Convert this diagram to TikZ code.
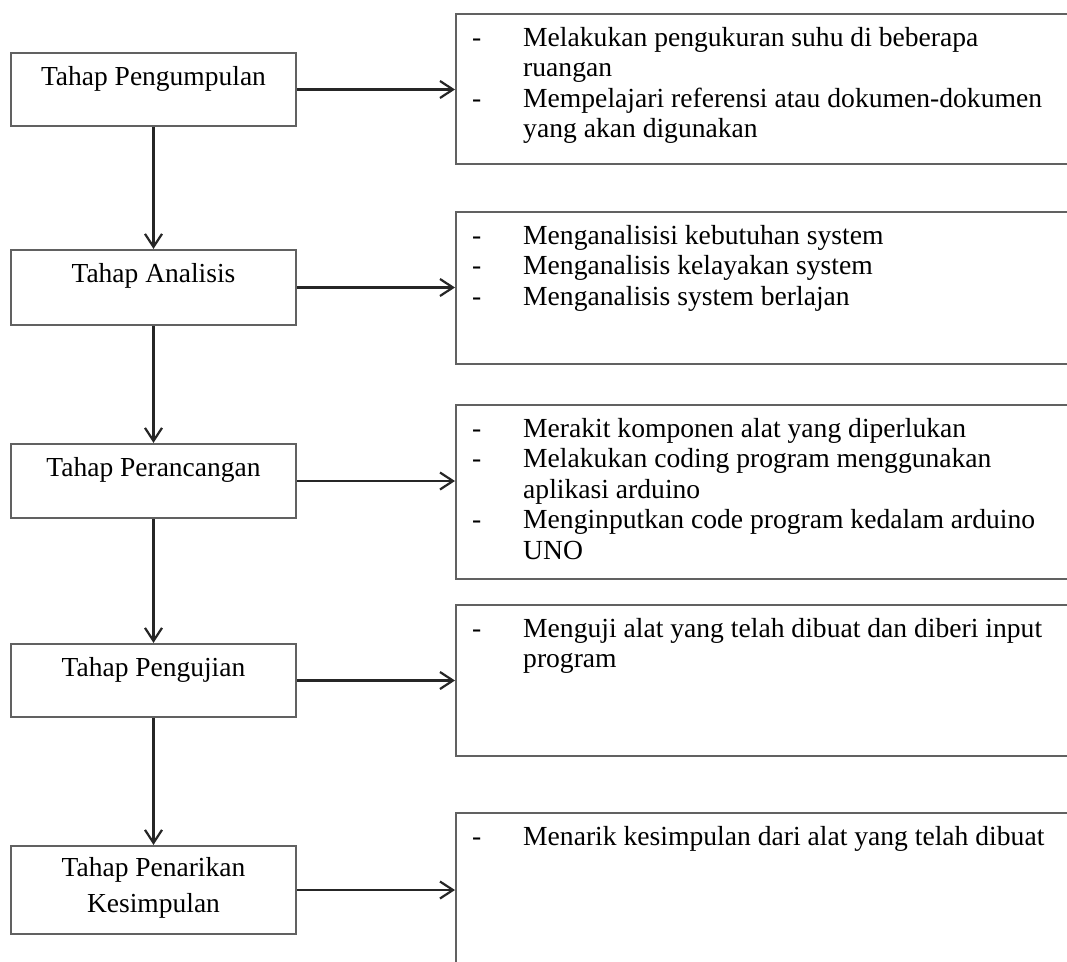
\documentclass[tikz,border=0pt]{standalone}
\usepackage{fontspec}
\setmainfont{Liberation Serif}
\usetikzlibrary{arrows.meta,calc}
\tikzset{
  lbox/.style={draw=black!62, line width=2.2pt, rectangle, inner sep=0pt, minimum width=285pt},
  rbox/.style={draw=black!62, line width=2.2pt, rectangle, inner sep=0pt, minimum width=700pt, anchor=north west},
  btext/.style={inner sep=0pt, anchor=base, font=\fontsize{27.5}{36}\selectfont},
  rtext/.style={inner sep=0pt, anchor=base west, font=\fontsize{27.6}{30.5}\selectfont},
  conn/.style={draw=black!85, line width=2.3pt, -{Straight Barb[length=13pt, width=17pt, line width=2.2pt]}}
}
\newcommand{\rlist}[1]{\begin{tabular}[t]{@{}p{51pt}@{}l@{}}#1\end{tabular}}
\begin{document}
\begin{tikzpicture}[x=1pt,y=1pt]
\clip (0,0) rectangle (1067,-961);
\fill[white] (0,0) rectangle (1067,-961);
% left boxes
\node[lbox, minimum height=73pt] (b1) at (153.5,-89.5) {};
\node[lbox, minimum height=75pt] (b2) at (153.5,-287.5) {};
\node[lbox, minimum height=74pt] (b3) at (153.5,-481) {};
\node[lbox, minimum height=73pt] (b4) at (153.5,-680.5) {};
\node[lbox, minimum height=88pt] (b5) at (153.5,-890) {};
\node[btext] (t1) at ($(b1.north)+(0,-33.5)$) {Tahap Pengumpulan};
\node[btext] (t2) at ($(b2.north)+(0,-33.5)$) {Tahap Analisis};
\node[btext] (t3) at ($(b3.north)+(0,-33.5)$) {Tahap Perancangan};
\node[btext] (t4) at ($(b4.north)+(0,-33.5)$) {Tahap Pengujian};
\node[btext] (t5) at ($(b5.north)+(0,-32)$) {\begin{tabular}[t]{@{}c@{}}Tahap Penarikan\\Kesimpulan\end{tabular}};
% right boxes
\node[rbox, minimum height=150pt] (r1) at (455,-13) {};
\node[rbox, minimum height=152pt] (r2) at (455,-211) {};
\node[rbox, minimum height=174pt] (r3) at (455,-404) {};
\node[rbox, minimum height=151pt] (r4) at (455,-604) {};
\node[rbox, minimum height=220pt] (r5) at (455,-812) {};
\node[rtext] (l1) at ($(r1.north west)+(17,-33)$) {\rlist{-&Melakukan pengukuran suhu di beberapa\\&ruangan\\-&Mempelajari referensi atau dokumen-dokumen\\&yang akan digunakan}};
\node[rtext] (l2) at ($(r2.north west)+(17,-33)$) {\rlist{-&Menganalisisi kebutuhan system\\-&Menganalisis kelayakan system\\-&Menganalisis system berlajan}};
\node[rtext] (l3) at ($(r3.north west)+(17,-33)$) {\rlist{-&Merakit komponen alat yang diperlukan\\-&Melakukan coding program menggunakan\\&aplikasi arduino\\-&Menginputkan code program kedalam arduino\\&UNO}};
\node[rtext] (l4) at ($(r4.north west)+(17,-33)$) {\rlist{-&Menguji alat yang telah dibuat dan diberi input\\&program}};
\node[rtext] (l5) at ($(r5.north west)+(17,-33)$) {\rlist{-&Menarik kesimpulan dari alat yang telah dibuat}};
% connectors
\draw[conn] (b1.south) -- (b2.north);
\draw[conn] (b2.south) -- (b3.north);
\draw[conn] (b3.south) -- (b4.north);
\draw[conn] (b4.south) -- (b5.north);
\draw[conn] (b1.east) -- (b1.east -| r1.west);
\draw[conn] (b2.east) -- (b2.east -| r2.west);
\draw[conn] (b3.east) -- (b3.east -| r3.west);
\draw[conn] (b4.east) -- (b4.east -| r4.west);
\draw[conn] (b5.east) -- (b5.east -| r5.west);
\end{tikzpicture}
\end{document}
